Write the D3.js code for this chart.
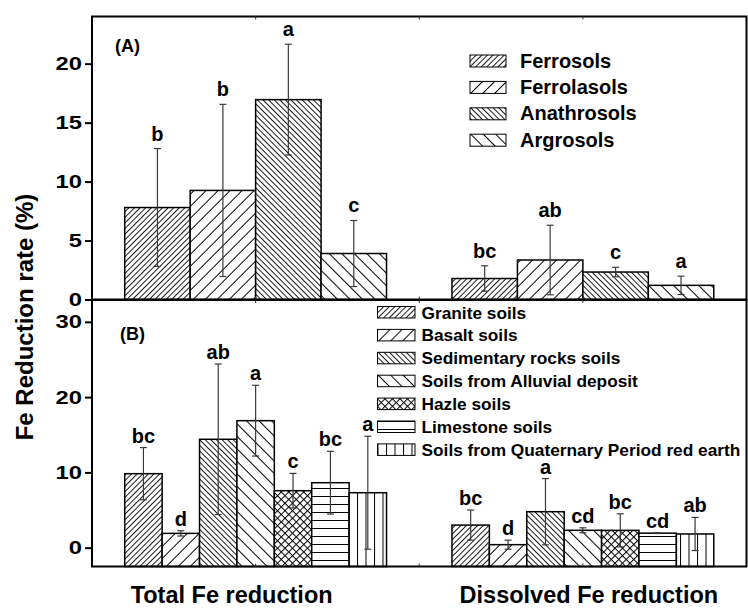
<!DOCTYPE html>
<html>
<head>
<meta charset="utf-8">
<script src="https://cdn.jsdelivr.net/npm/d3@7"></script>
<style>
  html, body { margin: 0; padding: 0; background: #fff; }
  svg { display: block; font-family: "Liberation Sans", Arial, Helvetica, sans-serif; font-weight: bold; }
</style>
</head>
<body>
<svg id="chart" width="748" height="608"></svg>
<script>
// Categories on the x axis
const groups = ["Total Fe reduction", "Dissolved Fe reduction"];
const groupPos = [1, 3];

// Panel A: soil orders
const soilOrders = ["Ferrosols", "Ferrolasols", "Anathrosols", "Argrosols"];
const orderTotal = [7.8, 9.25, 16.95, 3.9];
const orderTotalErr = [5.0, 7.3, 4.7, 2.8];
const orderTotalSig = ["b", "b", "a", "c"];
const orderDissolved = [1.78, 3.35, 2.33, 1.2];
const orderDissolvedErr = [1.08, 2.95, 0.4, 0.78];
const orderDissolvedSig = ["bc", "ab", "c", "a"];

// Panel B: parent materials
const parentMaterials = ["Granite soils", "Basalt soils", "Sedimentary rocks soils",
  "Soils from Alluvial deposit", "Hazle soils", "Limestone soils",
  "Soils from Quaternary Period red earth"];
const pmTotal = [9.83, 1.9, 14.4, 16.87, 7.57, 8.63, 7.3];
const pmTotalErr = [3.47, 0.35, 10.0, 4.7, 2.3, 4.17, 7.5];
const pmTotalSig = ["bc", "d", "ab", "a", "c", "bc", "a"];
const pmDissolved = [3.0, 0.4, 4.78, 2.31, 2.3, 1.93, 1.82];
const pmDissolvedErr = [2.0, 0.6, 4.4, 0.33, 2.2, 0.05, 2.2];
const pmDissolvedSig = ["bc", "d", "a", "cd", "bc", "cd", "ab"];

// Tick values
const ticksA = [0, 5, 10, 15, 20];
const ticksB = [0, 10, 20, 30];

const svg = d3.select("#chart");
const defs = svg.append("defs");

// Hatch fills
function linePattern(id, spacing, angle, sw) {
  const p = defs.append("pattern").attr("id", id)
    .attr("patternUnits", "userSpaceOnUse")
    .attr("width", spacing).attr("height", 20)
    .attr("patternTransform", `rotate(${angle})`);
  p.append("rect").attr("width", spacing).attr("height", 20).attr("fill", "#fff");
  p.append("line").attr("x1", 0.5).attr("x2", 0.5).attr("y1", 0).attr("y2", 20)
    .attr("stroke", "#000").attr("stroke-width", sw);
}
linePattern("hDenseFwd", 5.6 / Math.SQRT2, 45, 0.9);
linePattern("hSparseFwd", 12 / Math.SQRT2, 45, 1);
linePattern("hDenseBack", 5.6 / Math.SQRT2, -45, 0.9);
linePattern("hSparseBack", 12.5 / Math.SQRT2, -45, 1);
linePattern("hVert", 8.5, 0, 1);
linePattern("hHoriz", 8, 90, 1);
(function () {
  const s = 7.5 / Math.SQRT2;
  const p = defs.append("pattern").attr("id", "hCross")
    .attr("patternUnits", "userSpaceOnUse")
    .attr("width", s).attr("height", s)
    .attr("patternTransform", "rotate(45)");
  p.append("rect").attr("width", s).attr("height", s).attr("fill", "#fff");
  p.append("line").attr("x1", 0.5).attr("x2", 0.5).attr("y1", 0).attr("y2", s).attr("stroke", "#000").attr("stroke-width", 1);
  p.append("line").attr("y1", 0.5).attr("y2", 0.5).attr("x1", 0).attr("x2", s).attr("stroke", "#000").attr("stroke-width", 1);
})();

const fillsA = ["url(#hDenseFwd)", "url(#hSparseFwd)", "url(#hDenseBack)", "url(#hSparseBack)"];
const fillsB = ["url(#hDenseFwd)", "url(#hSparseFwd)", "url(#hDenseBack)", "url(#hSparseBack)",
  "url(#hCross)", "url(#hHoriz)", "url(#hVert)"];

// Scales
const left = 92, right = 746.5;
const x = d3.scaleLinear().domain([0, 4]).range([left, right]);
const yA = d3.scaleLinear().domain([0, 24]).range([299.5, 16.5]);
const yB = d3.scaleLinear().domain([-2.5, 32.9]).range([566.5, 300]);
const bandA = d3.scaleBand().domain(soilOrders).range([-0.8, 0.8]);
const bandB = d3.scaleBand().domain(parentMaterials).range([-0.8, 0.8]);

function drawPanel(y, band, names, series, fills, labelGap) {
  const g = svg.append("g");
  const base = y.domain()[0];
  series.forEach((s, gi) => {
    const gx = groupPos[gi];
    names.forEach((n, i) => {
      const x0 = x(gx + band(n));
      const x1 = x(gx + band(n) + band.bandwidth());
      const v = s.values[i], e = s.errs[i];
      g.append("rect")
        .attr("x", x0).attr("y", y(v))
        .attr("width", x1 - x0).attr("height", y(base) - y(v))
        .attr("fill", fills[i]).attr("stroke", "#000").attr("stroke-width", 1.5);
      const cx = (x0 + x1) / 2;
      const eg = g.append("g").attr("stroke", "#3a3a3a").attr("stroke-width", 1.2);
      eg.append("line").attr("x1", cx).attr("x2", cx).attr("y1", y(v + e)).attr("y2", y(v - e));
      eg.append("line").attr("x1", cx - 3.5).attr("x2", cx + 3.5).attr("y1", y(v + e)).attr("y2", y(v + e));
      eg.append("line").attr("x1", cx - 3.5).attr("x2", cx + 3.5).attr("y1", y(v - e)).attr("y2", y(v - e));
      g.append("text").attr("x", cx).attr("y", y(v + e) - labelGap)
        .attr("text-anchor", "middle").attr("font-size", 20).text(s.sig[i]);
    });
  });
}

drawPanel(yA, bandA, soilOrders, [
  { values: orderTotal, errs: orderTotalErr, sig: orderTotalSig },
  { values: orderDissolved, errs: orderDissolvedErr, sig: orderDissolvedSig }
], fillsA, 8);

drawPanel(yB, bandB, parentMaterials, [
  { values: pmTotal, errs: pmTotalErr, sig: pmTotalSig },
  { values: pmDissolved, errs: pmDissolvedErr, sig: pmDissolvedSig }
], fillsB, 5);

// Frames and axes
function frame(y) {
  const [y0, y1] = y.range();
  svg.append("rect").attr("x", left).attr("y", y1).attr("width", right - left).attr("height", y0 - y1)
    .attr("fill", "none").attr("stroke", "#000").attr("stroke-width", 2);
  // small category ticks on top and bottom edges
  [1, 2, 3].forEach(t => {
    svg.append("line").attr("x1", x(t)).attr("x2", x(t)).attr("y1", y1).attr("y2", y1 + 3).attr("stroke", "#333");
    svg.append("line").attr("x1", x(t)).attr("x2", x(t)).attr("y1", y0).attr("y2", y0 - 3).attr("stroke", "#333");
  });
}
function yAxis(y, ticks) {
  const ax = svg.append("g").attr("transform", `translate(${left},0)`)
    .call(d3.axisLeft(y).tickValues(ticks).tickSize(7).tickPadding(3).tickFormat(d3.format("d")));
  ax.select(".domain").remove();
  ax.selectAll(".tick line").attr("stroke", "#000").attr("stroke-width", 2);
  ax.selectAll(".tick text")
    .attr("x", 0)
    .attr("transform", "translate(-10,0) scale(1.25,1)")
    .attr("font-size", 19).attr("font-weight", "bold")
    .attr("font-family", "Liberation Sans, Arial, sans-serif").attr("fill", "#000");
}
frame(yA); frame(yB);
yAxis(yA, ticksA); yAxis(yB, ticksB);

// Panel tags
svg.append("text").attr("x", 115).attr("y", 52).attr("font-size", 18).text("(A)");
svg.append("text").attr("x", 120).attr("y", 340).attr("font-size", 18).text("(B)");

// Y title
svg.append("text").attr("transform", "translate(33,317) rotate(-90)")
  .attr("text-anchor", "middle").attr("font-size", 24).text("Fe Reduction rate (%)");

// X category labels
svg.append("text").attr("x", x(groupPos[0]) - 24).attr("y", 603).attr("text-anchor", "middle")
  .attr("font-size", 23.5).text(groups[0]);
svg.append("text").attr("x", x(groupPos[1]) + 6).attr("y", 603).attr("text-anchor", "middle")
  .attr("font-size", 23.5).text(groups[1]);

// Legend A
const legA = svg.append("g").attr("transform", "translate(470,55)");
soilOrders.forEach((n, i) => {
  const row = legA.append("g").attr("transform", `translate(0,${i * 26.4})`);
  row.append("rect").attr("width", 36).attr("height", 12).attr("fill", fillsA[i])
    .attr("stroke", "#000").attr("stroke-width", 1);
  row.append("text").attr("x", 50).attr("y", 12.5).attr("font-size", 20).text(n);
});

// Legend B
const legB = svg.append("g").attr("transform", "translate(377.5,306.5)");
parentMaterials.forEach((n, i) => {
  const row = legB.append("g").attr("transform", `translate(0,${i * 22.9})`);
  row.append("rect").attr("width", 37.5).attr("height", 11.5).attr("fill", fillsB[i])
    .attr("stroke", "#000").attr("stroke-width", 1);
  row.append("text").attr("x", 44).attr("y", 12).attr("font-size", 17.3).text(n);
});
</script>
</body>
</html>
